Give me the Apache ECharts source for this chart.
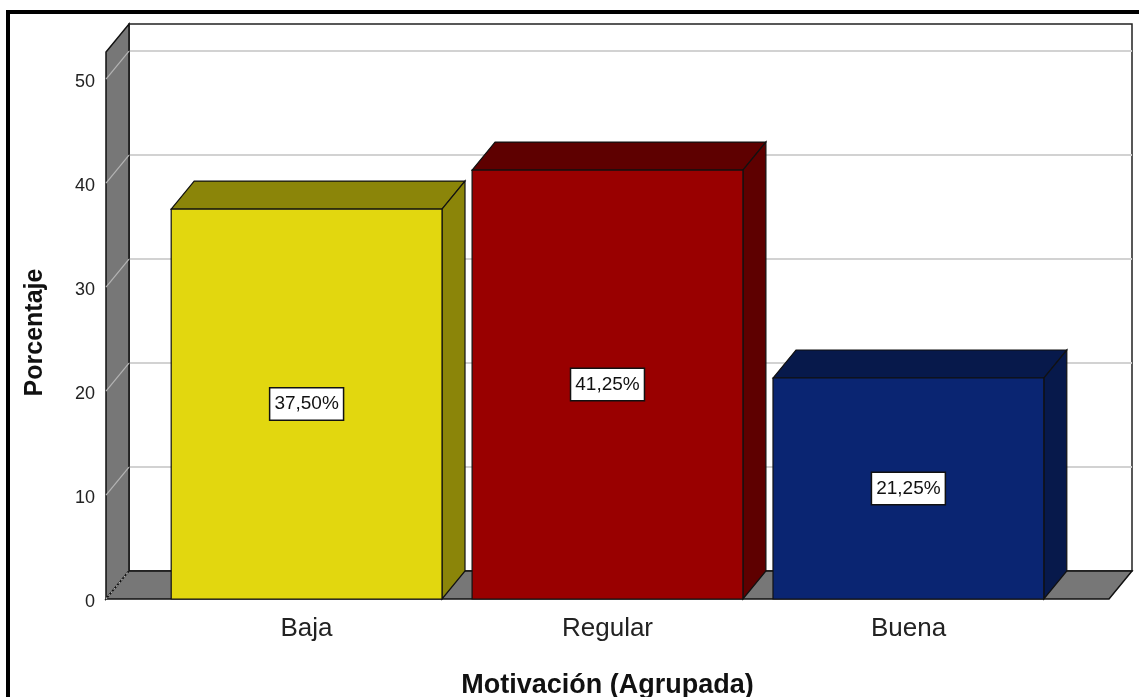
<!DOCTYPE html>
<html>
<head>
<meta charset="utf-8">
<script src="https://cdn.jsdelivr.net/npm/echarts@6/dist/echarts.min.js"></script>
<style>
  html, body { margin: 0; padding: 0; background: #fff; }
  #chart { width: 1139px; height: 697px; }
</style>
</head>
<body>
<div id="chart"></div>
<script>
const categories = ['Baja', 'Regular', 'Buena'];
const percentages = [37.5, 41.25, 21.25];
const percentLabels = ['37,50%', '41,25%', '21,25%'];
const yTicks = [0, 10, 20, 30, 40, 50];
const frontColors = ['#E2D70F', '#990000', '#0A2572'];
const shadeColors = ['#8B8509', '#5E0000', '#07194B'];

// axis range of the 3d frame (x in category index units)
const xMin = -2 / 3, xMax = 8 / 3, yMax = 52.6;
const depth = [23, -28];
const barWidth = 0.9;
const font = '"Liberation Sans", Arial, sans-serif';

const chart = echarts.init(document.getElementById('chart'), null, { renderer: 'canvas' });

const back = p => [p[0] + depth[0], p[1] + depth[1]];

function renderFrame(params, api) {
  const fl = api.coord([xMin, 0]);
  const fr = api.coord([xMax, 0]);
  const ft = api.coord([xMin, yMax]);
  const bl = back(fl), br = back(fr), bt = back(ft);
  const btr = [br[0], bt[1]];
  const children = [
    { type: 'polygon', shape: { points: [bl, bt, btr, br] }, style: { fill: '#fff', stroke: '#222', lineWidth: 1.5 } }
  ];
  yTicks.slice(1).forEach(v => {
    const b = back(api.coord([xMin, v]));
    children.push({ type: 'line', shape: { x1: b[0], y1: b[1], x2: br[0], y2: b[1] }, style: { stroke: '#d2d2d2', lineWidth: 2 } });
  });
  children.push(
    { type: 'polygon', shape: { points: [fl, ft, bt, bl] }, style: { fill: '#777', stroke: '#111', lineWidth: 1.5 } },
    { type: 'polygon', shape: { points: [fl, fr, br, bl] }, style: { fill: '#777', stroke: '#111', lineWidth: 1.5 } }
  );
  yTicks.forEach(v => {
    const f = api.coord([xMin, v]);
    const b = back(f);
    children.push({
      type: 'line', shape: { x1: f[0], y1: f[1], x2: b[0], y2: b[1] },
      style: { stroke: '#b4b4b4', lineWidth: 1.2, lineDash: v === 0 ? [2, 2] : null }
    });
  });
  return { type: 'group', children };
}

function renderBar(params, api) {
  const i = api.value(0);
  const v = api.value(1);
  const tl = api.coord([i - barWidth / 2, v]);
  const br = api.coord([i + barWidth / 2, 0]);
  const x0 = tl[0], x1 = br[0], yt = tl[1], yb = br[1];
  const dx = depth[0], dy = depth[1];
  const edge = { stroke: '#111', lineWidth: 1.2 };
  return {
    type: 'group',
    children: [
      { type: 'polygon', shape: { points: [[x0, yt], [x0 + dx, yt + dy], [x1 + dx, yt + dy], [x1, yt]] },
        style: Object.assign({ fill: shadeColors[params.dataIndex] }, edge) },
      { type: 'polygon', shape: { points: [[x1, yt], [x1 + dx, yt + dy], [x1 + dx, yb + dy], [x1, yb]] },
        style: Object.assign({ fill: shadeColors[params.dataIndex] }, edge) },
      { type: 'rect', shape: { x: x0, y: yt, width: x1 - x0, height: yb - yt },
        style: Object.assign({ fill: frontColors[params.dataIndex] }, edge) },
      { type: 'text', x: (x0 + x1) / 2, y: (yt + yb) / 2,
        style: {
          text: percentLabels[params.dataIndex], fill: '#111', font: '19px ' + font,
          align: 'center', verticalAlign: 'middle',
          backgroundColor: '#fff', borderColor: '#111', borderWidth: 1.5, padding: [7, 4, 5, 4]
        } }
    ]
  };
}

const option = {
  animation: false,
  graphic: [{
    type: 'rect', shape: { x: 8, y: 12, width: 1300, height: 1000 },
    style: { fill: 'none', stroke: '#000', lineWidth: 4 }, z: -10
  }],
  grid: [
    { left: 106, right: 30, top: 52, bottom: 98, outerBoundsMode: 'none' },
    { left: 156, right: 80, top: 52, bottom: 98, outerBoundsMode: 'none' }
  ],
  xAxis: [
    { type: 'value', gridIndex: 0, min: xMin, max: xMax, show: false },
    {
      type: 'category', gridIndex: 1, data: categories,
      axisLine: { show: false }, axisTick: { show: false }, splitLine: { show: false },
      axisLabel: { fontSize: 26, color: '#222', margin: 17, fontFamily: font },
      name: 'Motivación (Agrupada)', nameLocation: 'middle', nameGap: 73,
      nameTextStyle: { fontSize: 27, fontWeight: 'bold', color: '#111', fontFamily: font }
    }
  ],
  yAxis: [
    {
      type: 'value', gridIndex: 0, min: 0, max: yMax, interval: 10,
      axisLine: { show: false }, axisTick: { show: false }, splitLine: { show: false },
      axisLabel: {
        fontSize: 18, color: '#222', margin: 11, fontFamily: font,
        verticalAlign: 'top', lineHeight: 6,
        formatter: v => (yTicks.includes(v) ? String(v) : '')
      },
      name: 'Porcentaje', nameLocation: 'middle', nameGap: 58, nameRotate: 90,
      nameTextStyle: { fontSize: 25, fontWeight: 'bold', color: '#111', fontFamily: font, padding: [0, 14, 0, 0] }
    },
    { type: 'value', gridIndex: 1, show: false }
  ],
  series: [
    { type: 'custom', xAxisIndex: 0, yAxisIndex: 0, data: [[0, 0]], renderItem: renderFrame, silent: true, z: 1 },
    {
      type: 'custom', xAxisIndex: 0, yAxisIndex: 0, z: 2,
      data: categories.map((c, i) => [i, percentages[i]]),
      renderItem: renderBar
    }
  ]
};

chart.setOption(option);
</script>
</body>
</html>
